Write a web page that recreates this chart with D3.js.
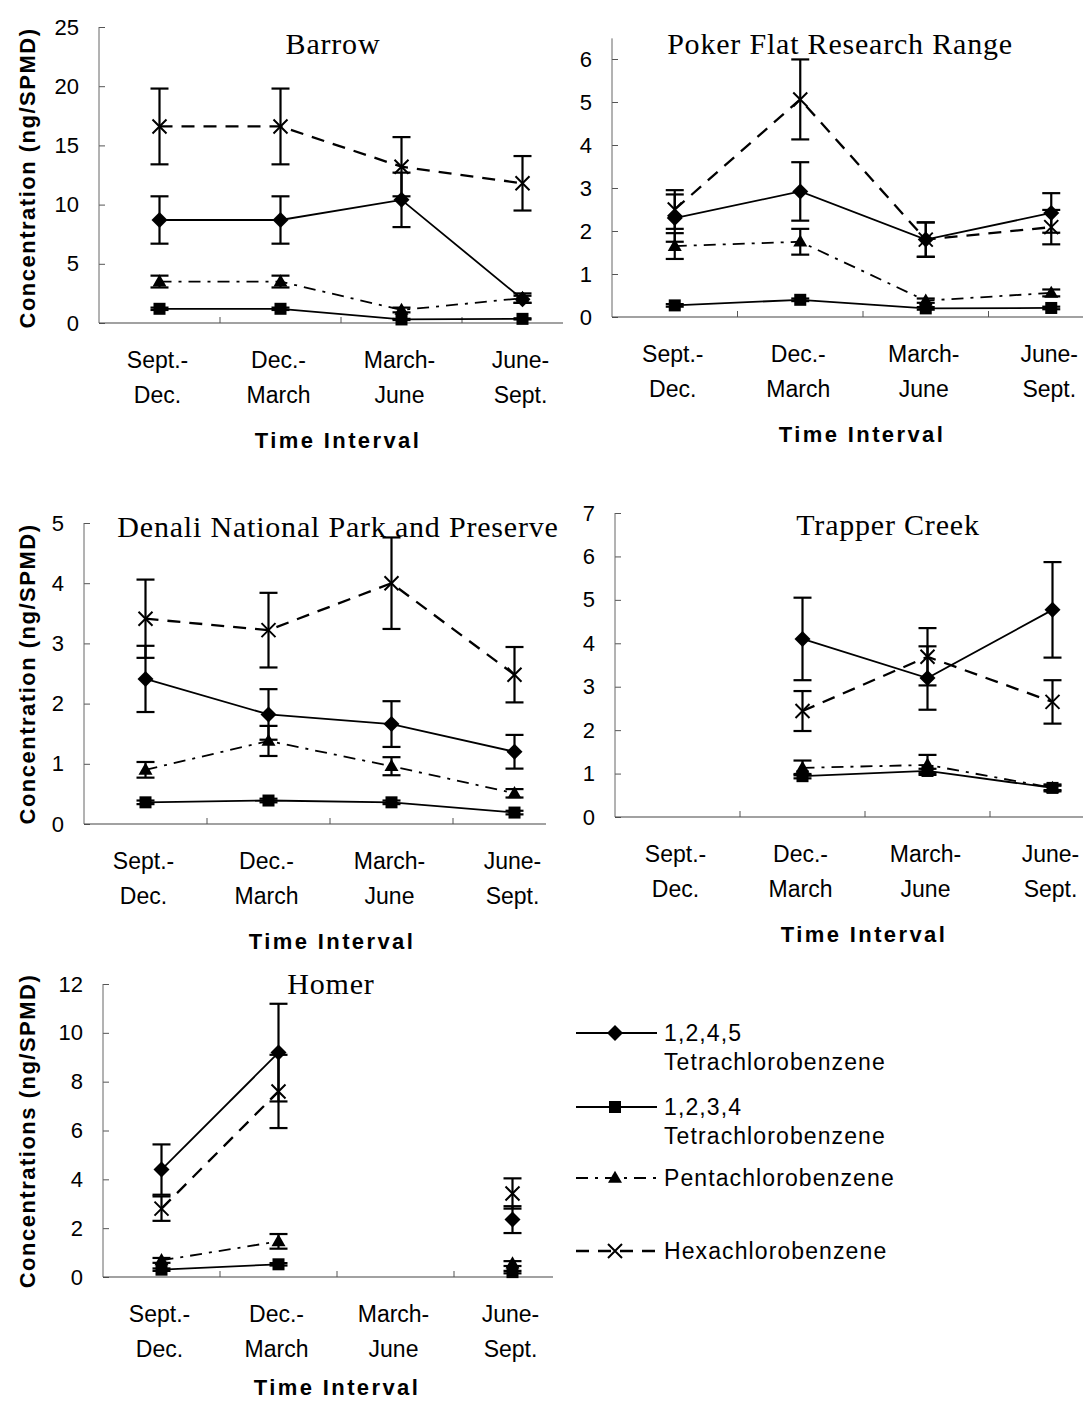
<!DOCTYPE html>
<html>
<head>
<meta charset="utf-8">
<script src="https://cdn.jsdelivr.net/npm/d3@7"></script>
<style>
  body { margin: 0; background: #fff; }
  svg { display: block; }
</style>
</head>
<body>
<svg id="fig" width="1083" height="1402"></svg>
<script>
// ---- Categories and series ----
const intervals = [["Sept.-", "Dec."], ["Dec.-", "March"], ["March-", "June"], ["June-", "Sept."]];
const seriesNames = [["1,2,4,5", "Tetrachlorobenzene"], ["1,2,3,4", "Tetrachlorobenzene"], ["Pentachlorobenzene"], ["Hexachlorobenzene"]];

// Values per site, series order: 1,2,4,5-TeCB, 1,2,3,4-TeCB, PeCB, HCB (ng/SPMD); null = no sample
const barrowValues = [[8.7, 8.7, 10.4, 2.0], [1.2, 1.2, 0.3, 0.35], [3.5, 3.5, 1.1, 2.1], [16.6, 16.6, 13.2, 11.8]];
const barrowErrors = [[2.0, 2.0, 2.3, 0.3], [0.1, 0.1, 0.05, 0.05], [0.5, 0.5, 0.2, 0.4], [3.2, 3.2, 2.5, 2.3]];

const pokerValues = [[2.3, 2.92, 1.8, 2.42], [0.27, 0.4, 0.2, 0.21], [1.65, 1.75, 0.38, 0.56], [2.5, 5.06, 1.8, 2.09]];
const pokerErrors = [[0.55, 0.68, 0.4, 0.46], [0.03, 0.03, 0.03, 0.03], [0.3, 0.3, 0.05, 0.08], [0.45, 0.93, 0.4, 0.4]];

const denaliValues = [[2.41, 1.82, 1.66, 1.2], [0.36, 0.39, 0.36, 0.19], [0.9, 1.38, 0.96, 0.51], [3.41, 3.22, 4.0, 2.48]];
const denaliErrors = [[0.55, 0.42, 0.38, 0.28], [0.03, 0.03, 0.03, 0.03], [0.13, 0.25, 0.15, 0.07], [0.65, 0.62, 0.76, 0.46]];

const trapperValues = [[null, 4.1, 3.2, 4.77], [null, 0.94, 1.06, 0.67], [null, 1.13, 1.2, 0.67], [null, 2.44, 3.69, 2.65]];
const trapperErrors = [[null, 0.95, 0.73, 1.1], [null, 0.05, 0.05, 0.05], [null, 0.17, 0.23, 0.08], [null, 0.46, 0.66, 0.5]];

const homerValues = [[4.4, 9.19, null, 2.35], [0.3, 0.52, null, 0.2], [0.68, 1.46, null, 0.55], [2.8, 7.6, null, 3.42]];
const homerErrors = [[1.03, 2.0, null, 0.55], [0.05, 0.05, null, 0.05], [0.1, 0.3, null, 0.1], [0.5, 1.5, null, 0.62]];

const titles = ["Barrow", "Poker Flat Research Range", "Denali National Park and Preserve", "Trapper Creek", "Homer"];
const yLabels = ["Concentration (ng/SPMD)", null, "Concentration (ng/SPMD)", null, "Concentrations (ng/SPMD)"];
const yMax = [25, 6, 5, 7, 12];
const yStep = [5, 1, 1, 1, 2];
const xTitle = "Time Interval";

// ---- Panel layout (pixels) ----
const panels = [
  { values: barrowValues,  errors: barrowErrors,  x0: 99,  step: 121,   y0: 323,  yTop: 27,  lineTopVal: 25,   xEnd: 563,  titleX: 333, titleY: 43,  xTitleX: 338, xTitleY: 440,  ylx: 27, yly: 178 },
  { values: pokerValues,   errors: pokerErrors,   x0: 612, step: 125.5, y0: 317,  yTop: 59,  lineTopVal: 6.48, xEnd: 1083, titleX: 840, titleY: 43,  xTitleX: 862, xTitleY: 434 },
  { values: denaliValues,  errors: denaliErrors,  x0: 84,  step: 123,   y0: 824,  yTop: 523, lineTopVal: 5,    xEnd: 546,  titleX: 338, titleY: 526, xTitleX: 332, xTitleY: 941,  ylx: 27, yly: 674 },
  { values: trapperValues, errors: trapperErrors, x0: 615, step: 125,   y0: 817,  yTop: 513, lineTopVal: 7,    xEnd: 1083, titleX: 888, titleY: 524, xTitleX: 864, xTitleY: 934 },
  { values: homerValues,   errors: homerErrors,   x0: 103, step: 117,   y0: 1277, yTop: 984, lineTopVal: 12,   xEnd: 553,  titleX: 331, titleY: 983, xTitleX: 337, xTitleY: 1387, ylx: 27, yly: 1131 }
];

// Line and marker styles for the four compounds
const seriesStyle = [
  { dash: null,       width: 1.8, marker: "diamond" },
  { dash: null,       width: 1.8, marker: "square" },
  { dash: "12,7,3,7", width: 1.8, marker: "triangle" },
  { dash: "13,9",     width: 2.3, marker: "cross" }
];

const sans = "'Liberation Sans', Arial, sans-serif";
const serif = "'Liberation Serif', 'Times New Roman', serif";
const svg = d3.select("#fig");

function drawMarker(g, type, cx, cy) {
  if (type === "diamond") {
    const r = 8;
    g.append("path").attr("d", `M${cx},${cy - r}L${cx + r},${cy}L${cx},${cy + r}L${cx - r},${cy}Z`).attr("fill", "#000");
  } else if (type === "square") {
    g.append("rect").attr("x", cx - 6).attr("y", cy - 6).attr("width", 12).attr("height", 12).attr("fill", "#000");
  } else if (type === "triangle") {
    const s = 14, h = s * Math.sqrt(3) / 2;
    g.append("path").attr("d", `M${cx},${cy - h * 0.6}L${cx + s / 2},${cy + h * 0.4}L${cx - s / 2},${cy + h * 0.4}Z`).attr("fill", "#000");
  } else {
    const r = 7;
    g.append("path").attr("d", `M${cx - r},${cy - r}L${cx + r},${cy + r}M${cx - r},${cy + r}L${cx + r},${cy - r}`)
      .attr("stroke", "#000").attr("stroke-width", 2).attr("fill", "none");
  }
}

panels.forEach((p, pi) => {
  const g = svg.append("g");
  const band = d3.scaleBand().domain(d3.range(intervals.length)).range([p.x0, p.x0 + intervals.length * p.step]);
  const xc = i => band(i) + band.bandwidth() / 2;
  const y = d3.scaleLinear().domain([0, yMax[pi]]).range([p.y0, p.yTop]);

  // y axis: ticks point into the plot, labels on the left
  const yAxis = d3.axisLeft(y)
    .tickValues(d3.range(0, yMax[pi] + 1e-9, yStep[pi]))
    .tickSize(-6).tickPadding(20).tickFormat(d3.format("d"));
  const ya = g.append("g").attr("transform", `translate(${p.x0},0)`).call(yAxis);
  ya.select(".domain").remove();
  ya.selectAll(".tick line").attr("stroke", "#555").attr("stroke-width", 1);
  ya.selectAll(".tick text").attr("font-family", sans).attr("font-size", 22).attr("fill", "#000");
  g.append("line").attr("x1", p.x0).attr("x2", p.x0).attr("y1", y(p.lineTopVal)).attr("y2", p.y0)
    .attr("stroke", "#666").attr("stroke-width", 1);

  // x axis line with category boundary ticks
  g.append("line").attr("x1", p.x0).attr("x2", p.xEnd).attr("y1", p.y0).attr("y2", p.y0)
    .attr("stroke", "#444").attr("stroke-width", 1.2);
  d3.range(1, intervals.length).forEach(i => {
    g.append("line").attr("x1", band(i)).attr("x2", band(i)).attr("y1", p.y0).attr("y2", p.y0 - 6)
      .attr("stroke", "#555").attr("stroke-width", 1);
  });

  // category labels (two lines)
  intervals.forEach((lines, i) => {
    const t = g.append("text").attr("font-family", sans).attr("font-size", 23).attr("text-anchor", "middle").attr("fill", "#000");
    lines.forEach((s, k) => {
      t.append("tspan").attr("x", xc(i) - 2).attr("y", p.y0 + 37 + k * 35).attr("dominant-baseline", "central").text(s);
    });
  });

  // axis title
  g.append("text").attr("x", p.xTitleX).attr("y", p.xTitleY).attr("text-anchor", "middle")
    .attr("dominant-baseline", "central").attr("font-family", sans).attr("font-weight", "bold")
    .attr("font-size", 22).attr("letter-spacing", 2.4).attr("fill", "#000").text(xTitle);

  if (yLabels[pi]) {
    g.append("text").attr("transform", `translate(${p.ylx},${p.yly}) rotate(-90)`)
      .attr("text-anchor", "middle").attr("dominant-baseline", "central")
      .attr("font-family", sans).attr("font-weight", "bold").attr("font-size", 22)
      .attr("letter-spacing", 1.5).attr("fill", "#000").text(yLabels[pi]);
  }

  // panel title
  g.append("text").attr("x", p.titleX).attr("y", p.titleY).attr("text-anchor", "middle")
    .attr("dominant-baseline", "central").attr("font-family", serif).attr("font-size", 30)
    .attr("letter-spacing", 0.8).attr("fill", "#000").text(titles[pi]);

  // error bars
  p.values.forEach((vals, si) => {
    vals.forEach((v, i) => {
      const e = p.errors[si][i];
      if (v == null || !e) return;
      const x = xc(i), yt = y(v + e), yb = y(Math.max(0, v - e));
      g.append("line").attr("x1", x).attr("x2", x).attr("y1", yt).attr("y2", yb).attr("stroke", "#000").attr("stroke-width", 2.2);
      [yt, yb].forEach(yy => g.append("line").attr("x1", x - 9).attr("x2", x + 9).attr("y1", yy).attr("y2", yy)
        .attr("stroke", "#000").attr("stroke-width", 2.2));
    });
  });

  // series lines
  p.values.forEach((vals, si) => {
    const st = seriesStyle[si];
    const line = d3.line().defined(d => d.v != null).x(d => xc(d.i)).y(d => y(d.v));
    g.append("path").datum(vals.map((v, i) => ({ v, i })))
      .attr("d", line).attr("fill", "none").attr("stroke", "#000").attr("stroke-width", st.width)
      .attr("stroke-dasharray", st.dash);
  });

  // markers
  p.values.forEach((vals, si) => {
    vals.forEach((v, i) => {
      if (v == null) return;
      drawMarker(g, seriesStyle[si].marker, xc(i), y(v));
    });
  });
});

// ---- Legend ----
const legendRows = [1033, 1107, 1178, 1251];
const lg = svg.append("g");
seriesNames.forEach((lines, si) => {
  const yy = legendRows[si], st = seriesStyle[si];
  lg.append("line").attr("x1", 576).attr("x2", 657).attr("y1", yy).attr("y2", yy)
    .attr("stroke", "#000").attr("stroke-width", st.width).attr("stroke-dasharray", st.dash);
  drawMarker(lg, st.marker, 615, yy);
  const t = lg.append("text").attr("font-family", sans).attr("font-size", 23).attr("letter-spacing", 1.1).attr("fill", "#000");
  lines.forEach((s, k) => {
    t.append("tspan").attr("x", 664).attr("y", yy + k * 29).attr("dominant-baseline", "central").text(s);
  });
});
</script>
</body>
</html>
